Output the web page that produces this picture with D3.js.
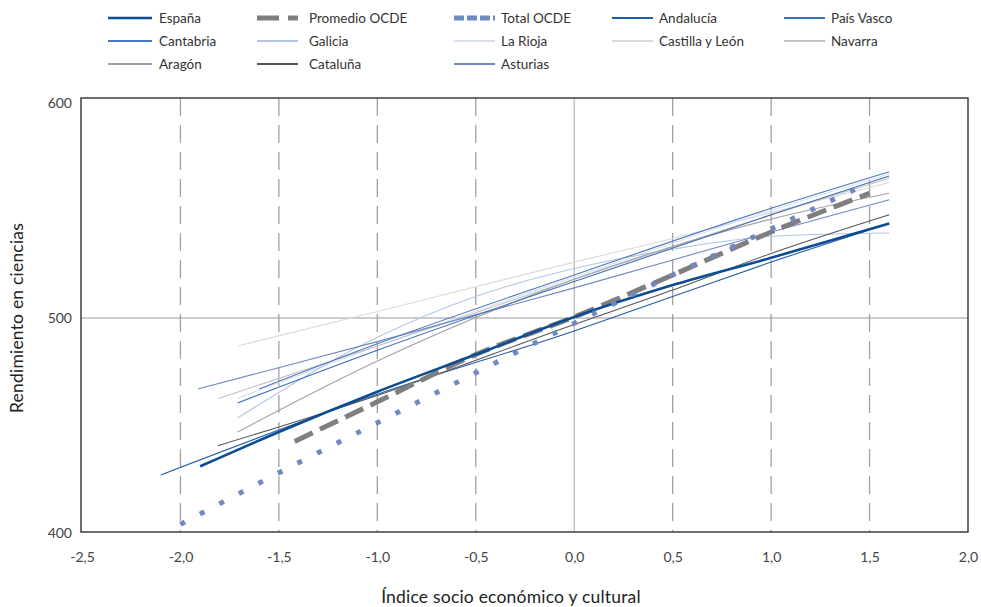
<!DOCTYPE html>
<html><head><meta charset="utf-8">
<script src="https://cdn.jsdelivr.net/npm/d3@7"></script>
<style>
html,body{margin:0;padding:0;background:#fff;}
svg{display:block;font-family:Lato,"Open Sans",sans-serif;}
</style></head>
<body><svg id="c" width="981" height="607"></svg>
<script>
// ---- data ----
const xTicks = [-2.5,-2.0,-1.5,-1.0,-0.5,0.0,0.5,1.0,1.5,2.0];
const yTicks = [400,500,600];
const espana    = [[-1.9,431],[-1.5,447],[-1,465.7],[-0.5,483],[0,500.5],[0.5,515.3],[1,528],[1.6,544]];
const promedio  = [[-1.42,442.6],[-1,461],[-0.5,483],[0,500.5],[0.5,520],[1,540],[1.5,558]];
const totalOcde = [[-2,404],[-1.5,428],[-1,451.3],[-0.5,474.5],[0,497.5],[0.5,520],[1,541.5],[1.5,563]];
const andalucia = [[-2.1,427],[-1,464.5],[0,494],[0.5,510],[1,526],[1.6,544]];
const paisVasco = [[-1.71,460.5],[-1,485],[0,517],[1,548],[1.6,566]];
const cantabria = [[-1.6,467],[-1,488],[0,520],[1,551],[1.6,568]];
const galicia   = [[-1.71,453.5],[-1,491],[-0.5,510],[0,523],[0.5,532],[1,538],[1.6,539.5]];
const laRioja   = [[-1.71,462.7],[-1,487],[0,519],[1,550],[1.6,567]];
const castilla  = [[-1.71,487],[-1,503],[0,526],[0.5,537],[1,549],[1.6,563]];
const navarra   = [[-1.81,462.5],[-1,487],[0,518],[1,548],[1.6,565]];
const aragon    = [[-1.71,447],[-1,480],[0,518],[1,546],[1.6,558]];
const cataluna  = [[-1.81,440.6],[-1,464],[0,497],[0.5,513],[1,530],[1.6,548]];
const asturias  = [[-1.91,467],[-1,489],[0,514],[1,540],[1.6,555]];

const series = [
  {name:"España", data:espana, color:"#0b4c92", w:2.6, dash:null, legDash:null},
  {name:"Promedio OCDE", data:promedio, color:"#7f7f7f", w:5, dash:"20,8", legDash:"22,9"},
  {name:"Total OCDE", data:totalOcde, color:"#7089c1", w:5, dash:"5,17", legDash:"10,3"},
  {name:"Andalucía", data:andalucia, color:"#1f5ca6", w:1.1},
  {name:"País Vasco", data:paisVasco, color:"#3a6db8", w:1.1},
  {name:"Cantabria", data:cantabria, color:"#4a78c0", w:1.1},
  {name:"Galicia", data:galicia, color:"#b4c6e6", w:1.1},
  {name:"La Rioja", data:laRioja, color:"#d9dff0", w:1.1},
  {name:"Castilla y León", data:castilla, color:"#dadada", w:1.1},
  {name:"Navarra", data:navarra, color:"#c0c0c0", w:1.1},
  {name:"Aragón", data:aragon, color:"#a3a3a3", w:1.1},
  {name:"Cataluña", data:cataluna, color:"#555555", w:1.1},
  {name:"Asturias", data:asturias, color:"#6f88c2", w:1.1}
];

const svg = d3.select("#c");
const L=81, R=968, T=98, B=532;
const x = d3.scaleLinear().domain([-2.5,2]).range([82,968]);
const y = d3.scaleLinear().domain([400,600]).range([533,103]);
const fmt = v => d3.format(".1f")(v).replace(".",",").replace("−","-");

// grid
svg.append("g").selectAll("line").data(xTicks.filter(t=>t>-2.5 && t<2 && t!==0)).join("line")
  .attr("x1",d=>x(d)).attr("x2",d=>x(d)).attr("y1",T).attr("y2",B)
  .attr("stroke","#a0a0a0").attr("stroke-width",1.3).attr("stroke-dasharray","18,9");
svg.append("line").attr("x1",x(0)).attr("x2",x(0)).attr("y1",T).attr("y2",B)
  .attr("stroke","#b8b8b8").attr("stroke-width",1.3);
svg.append("line").attr("x1",L).attr("x2",R).attr("y1",y(500)).attr("y2",y(500))
  .attr("stroke","#999").attr("stroke-width",1.2);

// lines
const line = d3.line().x(d=>x(d[0])).y(d=>y(d[1])).curve(d3.curveMonotoneX);
const order = [8,7,6,9,10,12,4,5,3,11,1,0,2];
svg.append("g").selectAll("path").data(order.map(i=>series[i])).join("path")
  .attr("d",d=>line(d.data)).attr("fill","none")
  .attr("stroke",d=>d.color).attr("stroke-width",d=>d.w)
  .attr("stroke-dasharray",d=>d.dash||null);

// frame
svg.append("rect").attr("x",L).attr("y",T).attr("width",R-L).attr("height",B-T)
  .attr("fill","none").attr("stroke","#222").attr("stroke-width",1.3);

// axes labels
const xAxis = d3.axisBottom(x).tickValues(xTicks).tickFormat(fmt).tickSize(0).tickPadding(0);
const gx = svg.append("g").attr("transform",`translate(0,${B})`).call(xAxis);
gx.select(".domain").remove();
gx.selectAll("text").attr("dy",null).attr("y",30).attr("font-size",14).attr("fill","#444")
  .attr("font-family","Lato,'Open Sans',sans-serif");
const yAxis = d3.axisLeft(y).tickValues(yTicks).tickSize(0).tickPadding(9);
const gy = svg.append("g").attr("transform",`translate(${L},0)`).call(yAxis);
gy.select(".domain").remove();
gy.selectAll("text").attr("font-size",14).attr("fill","#444")
  .attr("font-family","Lato,'Open Sans',sans-serif");

svg.append("text").attr("x",511).attr("y",603).attr("text-anchor","middle")
  .attr("font-size",17.5).attr("letter-spacing",0.2).attr("fill","#222").text("Índice socio económico y cultural");
svg.append("text").attr("transform","translate(23,318) rotate(-90)").attr("text-anchor","middle")
  .attr("font-size",17.5).attr("letter-spacing",0.2).attr("fill","#222").text("Rendimiento en ciencias");

// legend
const legCols = [108,257,454,612,784];
const legRows = [18,41,64];
const legend = svg.append("g");
series.forEach((s,i)=>{
  const c = i%5, r = Math.floor(i/5);
  const x0 = legCols[c], yy = legRows[r];
  const sw = (c===0)?44:41;
  legend.append("line").attr("x1",x0).attr("x2",x0+sw).attr("y1",yy).attr("y2",yy)
    .attr("stroke",s.color).attr("stroke-width",s.w>2?s.w:1.8)
    .attr("stroke-dasharray",s.legDash||null);
  legend.append("text").attr("x",x0+sw+(c===0?7:(c===1?11:6))).attr("y",yy).attr("dy","0.35em")
    .attr("font-size",13.5).attr("fill","#333").text(s.name);
});
</script></body></html>
